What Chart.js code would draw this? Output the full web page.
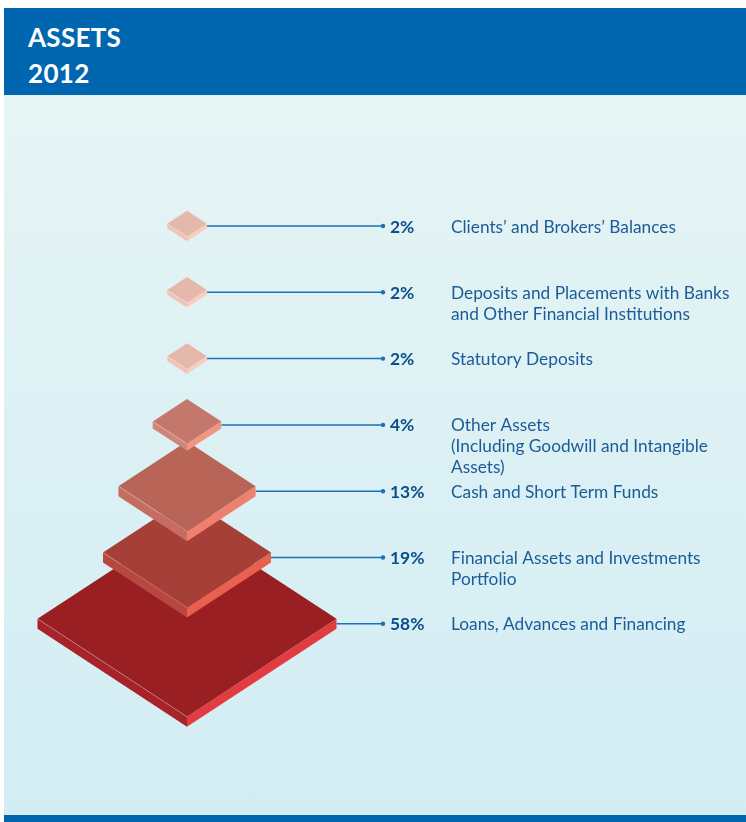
<!DOCTYPE html>
<html>
<head>
<meta charset="utf-8">
<title>Assets 2012</title>
<script src="https://cdn.jsdelivr.net/npm/chart.js@4/dist/chart.umd.min.js"></script>
<style>
  html, body { margin: 0; padding: 0; background: #ffffff; }
  #page { position: relative; width: 746px; height: 822px; overflow: hidden; }
  #header {
    position: absolute; left: 4px; top: 8px; width: 742px; height: 87px;
    background: #0066b0;
  }
  #header h1 {
    margin: 0; position: absolute; left: 24px; top: 11px;
    font: bold 26px/36px Lato, "Noto Sans", sans-serif; color: #ffffff;
    letter-spacing: 0.3px;
  }
  #panel {
    position: absolute; left: 4px; top: 95px; width: 742px; height: 720px;
    background: linear-gradient(to bottom, #e6f4f4 0%, #d2edf4 100%);
  }
  #footer {
    position: absolute; left: 4px; top: 815px; width: 742px; height: 7px;
    background: #0066b0;
  }
  #chart { position: absolute; left: 0; top: 0; }
</style>
</head>
<body>
<div id="page">
  <div id="header"><h1>ASSETS<br>2012</h1></div>
  <div id="panel"></div>
  <div id="footer"></div>
  <canvas id="chart" width="746" height="822"></canvas>
</div>
<script>
// Asset categories, top to bottom
const CATEGORIES = [
  ["Clients\u2019 and Brokers\u2019 Balances"],
  ["Deposits and Placements with Banks", "and Other Financial Institutions"],
  ["Statutory Deposits"],
  ["Other Assets", "(Including Goodwill and Intangible", "Assets)"],
  ["Cash and Short Term Funds"],
  ["Financial Assets and Investments", "Portfolio"],
  ["Loans, Advances and Financing"]
];
// Share of total assets, %
const SHARES = [2, 2, 2, 4, 13, 19, 58];
// Percentage labels
const SHARE_LABELS = SHARES.map(v => v + "%");

// Layout (in x-scale units, which span the canvas width)
const STACK_X = 187;      // centre line of the stacked plates
const DOT_X = 383;        // end of each leader line
const PCT_X = 390;        // percentage label
const NAME_X = 451;       // category label
const SIZE_K = 19.8;      // plate half-width per sqrt(share)
const ROW0_PX = 226, ROW_STEP_PX = 66.3, CANVAS_H = 822;

// Plate colours per row: [top face, left side, right side]
const PLATE_COLORS = [
  ["#e5b8ac", "#efc4b7", "#f8cdbf"],
  ["#e5b8ac", "#efc4b7", "#f8cdbf"],
  ["#e5b8ac", "#efc4b7", "#f8cdbf"],
  ["#c4786b", "#d0857a", "#f19583"],
  ["#b86457", "#c56d60", "#ee806f"],
  ["#a63f38", "#b7483f", "#e8604f"],
  ["#9a1f23", "#a72329", "#e23c40"]
];
const LINE_COLOR = "#1f6fb5";
const PCT_COLOR = "#0b4e8c";
const NAME_COLOR = "#1b5c98";
const FONT_FAMILY = "Lato, 'Noto Sans', sans-serif";

// Half-width of a plate (x units) for a given share
function plateHalfWidth(v) {
  return SIZE_K * Math.sqrt(Math.max(v - 1, 0.2));
}

const platesPlugin = {
  id: "plates",
  afterDatasetsDraw(chart) {
    const ctx = chart.ctx;
    const xs = chart.scales.x, ys = chart.scales.y;
    const meta = chart.data.datasets[0].data;

    // leader lines + end dots
    meta.forEach((pt, i) => {
      const lineY = ys.getPixelForValue(pt.y);
      const cx = xs.getPixelForValue(pt.x);
      const w = xs.getPixelForValue(pt.x + plateHalfWidth(pt.v)) - cx;
      ctx.save();
      ctx.strokeStyle = LINE_COLOR;
      ctx.lineWidth = 1.5;
      ctx.beginPath();
      ctx.moveTo(cx + w, lineY);
      ctx.lineTo(xs.getPixelForValue(DOT_X), lineY);
      ctx.stroke();
      ctx.fillStyle = LINE_COLOR;
      ctx.beginPath();
      ctx.arc(xs.getPixelForValue(DOT_X), lineY, 2.2, 0, Math.PI * 2);
      ctx.fill();
      ctx.restore();
    });

    // plates, from the bottom row upward so upper plates overlap
    for (let i = meta.length - 1; i >= 0; i--) {
      const pt = meta[i];
      const lineY = ys.getPixelForValue(pt.y);
      const cx = xs.getPixelForValue(pt.x);
      const w = xs.getPixelForValue(pt.x + plateHalfWidth(pt.v)) - cx;
      const h = w * 0.655;
      const t = Math.min(10, 1.5 + w * 0.16);
      const cy = lineY - t / 2;
      const [cTop, cLeft, cRight] = PLATE_COLORS[i];
      ctx.save();
      // left side
      ctx.fillStyle = cLeft;
      ctx.beginPath();
      ctx.moveTo(cx - w, cy); ctx.lineTo(cx, cy + h);
      ctx.lineTo(cx, cy + h + t); ctx.lineTo(cx - w, cy + t);
      ctx.closePath(); ctx.fill();
      // right side
      ctx.fillStyle = cRight;
      ctx.beginPath();
      ctx.moveTo(cx, cy + h); ctx.lineTo(cx + w, cy);
      ctx.lineTo(cx + w, cy + t); ctx.lineTo(cx, cy + h + t);
      ctx.closePath(); ctx.fill();
      // top face
      ctx.fillStyle = cTop;
      ctx.beginPath();
      ctx.moveTo(cx - w, cy); ctx.lineTo(cx, cy - h);
      ctx.lineTo(cx + w, cy); ctx.lineTo(cx, cy + h);
      ctx.closePath(); ctx.fill();
      // soft highlight on the front-left edge
      ctx.strokeStyle = "rgba(255,255,255,0.35)";
      ctx.lineWidth = 0.8;
      ctx.beginPath();
      ctx.moveTo(cx - w, cy); ctx.lineTo(cx, cy + h);
      ctx.stroke();
      ctx.restore();
    }

    // labels
    meta.forEach((pt, i) => {
      const lineY = ys.getPixelForValue(pt.y);
      ctx.save();
      ctx.textAlign = "left";
      ctx.textBaseline = "alphabetic";
      ctx.fillStyle = PCT_COLOR;
      ctx.font = "bold 17.4px " + FONT_FAMILY;
      ctx.fillText(SHARE_LABELS[i], xs.getPixelForValue(PCT_X), lineY + 6.5);
      ctx.fillStyle = NAME_COLOR;
      ctx.font = "17.3px " + FONT_FAMILY;
      CATEGORIES[i].forEach((line, k) => {
        ctx.fillText(line, xs.getPixelForValue(NAME_X), lineY + 6.5 + k * 21);
      });
      ctx.restore();
    });
  }
};

new Chart(document.getElementById("chart"), {
  type: "scatter",
  data: {
    datasets: [{
      label: "Assets",
      data: SHARES.map((v, i) => ({ x: STACK_X, y: i, v: v })),
      pointRadius: 0,
      pointHoverRadius: 0
    }]
  },
  options: {
    responsive: false,
    animation: false,
    events: [],
    layout: { padding: 0 },
    plugins: { legend: { display: false }, tooltip: { enabled: false } },
    scales: {
      x: { type: "linear", display: false, min: 0, max: 746 },
      y: {
        type: "linear", display: false, reverse: true,
        min: -ROW0_PX / ROW_STEP_PX,
        max: (CANVAS_H - ROW0_PX) / ROW_STEP_PX
      }
    }
  },
  plugins: [platesPlugin]
});
</script>
</body>
</html>
